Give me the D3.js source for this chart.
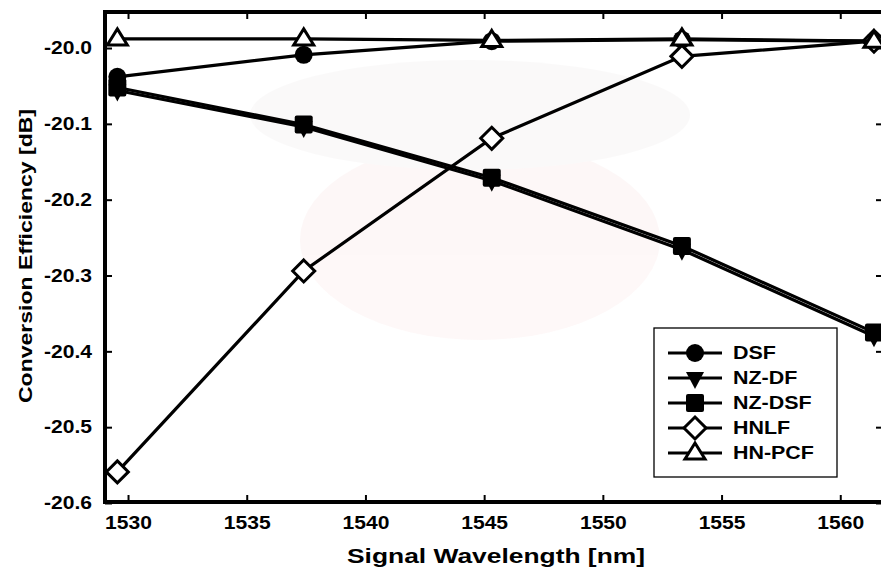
<!DOCTYPE html>
<html><head><meta charset="utf-8">
<script src="https://cdn.jsdelivr.net/npm/d3@7"></script>
<style>body{margin:0;background:#fff}svg{display:block}text{font-family:"Liberation Sans",Arial,sans-serif;font-weight:bold}</style>
</head><body><svg id="c" width="881" height="571"></svg>
<script>
const wavelengths = [1529.55, 1537.40, 1545.32, 1553.33, 1561.42];
const dsf    = [-20.038, -20.009, -19.991, -19.989, -19.991];
const nzdf   = [-20.056, -20.104, -20.175, -20.266, -20.380];
const nzdsf  = [-20.052, -20.101, -20.171, -20.261, -20.375];
const hnlf   = [-20.559, -20.294, -20.119, -20.011, -19.991];
const hnpcf  = [-19.988, -19.988, -19.990, -19.988, -19.991];
const seriesNames = ["DSF", "NZ-DF", "NZ-DSF", "HNLF", "HN-PCF"];
const xTicks = [1530, 1535, 1540, 1545, 1550, 1555, 1560];
const yTicks = [-20.6, -20.5, -20.4, -20.3, -20.2, -20.1, -20.0];

const series = [
  {name: seriesNames[0], values: dsf,   marker: "circle"},
  {name: seriesNames[1], values: nzdf,  marker: "tridown"},
  {name: seriesNames[2], values: nzdsf, marker: "square"},
  {name: seriesNames[3], values: hnlf,  marker: "diamond"},
  {name: seriesNames[4], values: hnpcf, marker: "triup"}
];

const L = 105, R = 883, T = 12, B = 502;
const x = d3.scaleLinear().domain([1529.03, 1561.8]).range([L, R]);
const y = d3.scaleLinear().domain([-20.6, -19.9525]).range([503, T]);
const svg = d3.select("#c");

function stretch(sel, f) {
  sel.each(function() {
    const w = this.getComputedTextLength();
    d3.select(this).attr("textLength", w * f).attr("lengthAdjust", "spacingAndGlyphs");
  });
}
function fitWidth(sel, w) {
  sel.attr("textLength", w).attr("lengthAdjust", "spacingAndGlyphs");
}

// faint watermark-like background
const wm = svg.append("g").attr("opacity", 0.35);
wm.append("ellipse").attr("cx", 480).attr("cy", 240).attr("rx", 180).attr("ry", 100).attr("fill", "#fbeaea");
wm.append("ellipse").attr("cx", 470).attr("cy", 115).attr("rx", 220).attr("ry", 55).attr("fill", "#f3f0f0");

// axes
const tickLen = 7;
svg.append("g").attr("transform", `translate(0,${B})`)
  .call(d3.axisBottom(x).tickValues(xTicks).tickSize(-tickLen).tickPadding(14).tickFormat(d3.format("d")))
  .call(g => { g.select(".domain").remove(); g.selectAll("line").attr("stroke","#000").attr("stroke-width",2);
    g.selectAll("text").attr("font-size",18).attr("fill","#000").call(stretch, 1.17); });
svg.append("g").attr("transform", `translate(0,${T})`)
  .call(d3.axisTop(x).tickValues(xTicks).tickSize(-tickLen).tickFormat(""))
  .call(g => { g.select(".domain").remove(); g.selectAll("line").attr("stroke","#000").attr("stroke-width",2); });
svg.append("g").attr("transform", `translate(${L},0)`)
  .call(d3.axisLeft(y).tickValues(yTicks).tickSize(-tickLen).tickPadding(13).tickFormat(d3.format(".1f")))
  .call(g => { g.select(".domain").remove(); g.selectAll("line").attr("stroke","#000").attr("stroke-width",2);
    g.selectAll("text").attr("font-size",18).attr("fill","#000").text(d => d3.format(".1f")(d).replace("−","-")).call(stretch, 1.17); });
svg.append("g").attr("transform", `translate(${R},0)`)
  .call(d3.axisRight(y).tickValues(yTicks).tickSize(-tickLen).tickFormat(""))
  .call(g => { g.select(".domain").remove(); g.selectAll("line").attr("stroke","#000").attr("stroke-width",2); });

svg.append("rect").attr("x", L).attr("y", T).attr("width", R - L).attr("height", B - T)
  .attr("fill", "none").attr("stroke", "#000").attr("stroke-width", 4);

// markers
function drawMarker(g, type, cx, cy) {
  const sw = 3;
  if (type === "circle") g.append("circle").attr("cx",cx).attr("cy",cy).attr("r",9).attr("fill","#000");
  else if (type === "square") g.append("rect").attr("x",cx-9).attr("y",cy-9).attr("width",18).attr("height",18).attr("rx",2).attr("fill","#000");
  else if (type === "tridown") g.append("path").attr("d",`M${cx-9},${cy-6}L${cx+9},${cy-6}L${cx},${cy+11}Z`).attr("fill","#000");
  else if (type === "diamond") g.append("path").attr("d",`M${cx},${cy-11}L${cx+11},${cy}L${cx},${cy+11}L${cx-11},${cy}Z`).attr("fill","#fff").attr("stroke","#000").attr("stroke-width",sw).attr("stroke-linejoin","miter");
  else if (type === "triup") g.append("path").attr("d",`M${cx},${cy-10}L${cx+10},${cy+6}L${cx-10},${cy+6}Z`).attr("fill","#fff").attr("stroke","#000").attr("stroke-width",sw).attr("stroke-linejoin","miter");
}

const line = d3.line().x((d,i) => x(wavelengths[i])).y(d => y(d));
const plot = svg.append("g");
series.forEach(s => {
  const g = plot.append("g");
  g.append("path").attr("d", line(s.values)).attr("fill","none").attr("stroke","#000").attr("stroke-width",3.2);
  s.values.forEach((v,i) => drawMarker(g, s.marker, x(wavelengths[i]), y(v)));
});

// legend
const lg = svg.append("g");
lg.append("rect").attr("x",654).attr("y",328).attr("width",183).attr("height",149).attr("fill","#fff").attr("stroke","#000").attr("stroke-width",1.3);
series.forEach((s,i) => {
  const yy = 353 + i*25;
  lg.append("line").attr("x1",668).attr("x2",722).attr("y1",yy).attr("y2",yy).attr("stroke","#000").attr("stroke-width",3.2);
  drawMarker(lg, s.marker, 695, yy);
  lg.append("text").attr("x",733).attr("y",yy).attr("dy","0.36em").attr("font-size",18).text(s.name).call(stretch, 1.19);
});

// axis titles
svg.append("text").attr("x", 496).attr("y", 563).attr("text-anchor","middle").attr("font-size",21)
  .text("Signal Wavelength [nm]").call(fitWidth, 298);
svg.append("text").attr("transform","translate(32,256) rotate(-90)").attr("text-anchor","middle").attr("font-size",19)
  .text("Conversion Efficiency [dB]").call(fitWidth, 294);
</script></body></html>
